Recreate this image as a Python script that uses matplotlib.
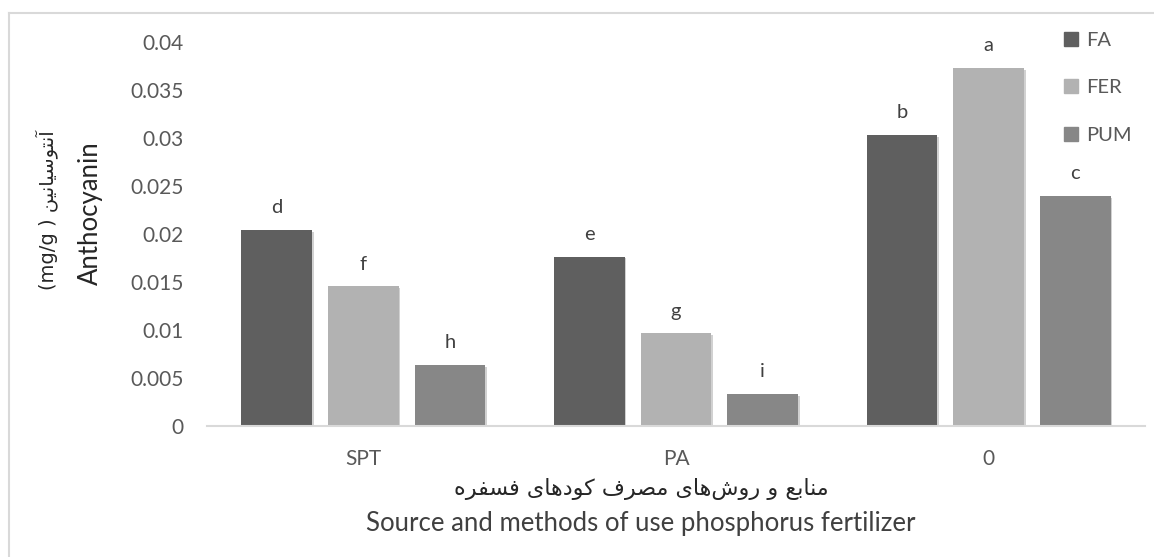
import matplotlib
matplotlib.use("Agg")
import matplotlib.pyplot as plt
import matplotlib.patheffects as pe
from matplotlib.lines import Line2D
import numpy as np

# ---- data ----
categories = ["SPT", "PA", "0"]
series_names = ["FA", "FER", "PUM"]
fa_values = [0.0204, 0.0176, 0.0303]
fer_values = [0.0145, 0.0096, 0.0373]
pum_values = [0.0063, 0.0033, 0.0239]
fa_letters = ["d", "e", "b"]
fer_letters = ["f", "g", "a"]
pum_letters = ["h", "i", "c"]
y_ticks = [0, 0.005, 0.01, 0.015, 0.02, 0.025, 0.03, 0.035, 0.04]
y_tick_labels = ["0", "0.005", "0.01", "0.015", "0.02", "0.025", "0.03", "0.035", "0.04"]

ylabel_fa = "آنتوسیانین"
ylabel_unit = "(mg/g ) "
ylabel_en = "Anthocyanin"
xlabel_fa = "منابع و روش\u200cهای مصرف کودهای فسفره"
xlabel_en = "Source and methods of use phosphorus fertilizer"

# ---- minimal Arabic-script shaping (presentation forms, visual order) ----
AR = {
    '\u0627': ('\uFE8D', '\uFE8E', None, None),
    '\u0622': ('\uFE81', '\uFE82', None, None),
    '\u0628': ('\uFE8F', '\uFE90', '\uFE91', '\uFE92'),
    '\u062A': ('\uFE95', '\uFE96', '\uFE97', '\uFE98'),
    '\u062F': ('\uFEA9', '\uFEAA', None, None),
    '\u0631': ('\uFEAD', '\uFEAE', None, None),
    '\u0633': ('\uFEB1', '\uFEB2', '\uFEB3', '\uFEB4'),
    '\u0634': ('\uFEB5', '\uFEB6', '\uFEB7', '\uFEB8'),
    '\u0635': ('\uFEB9', '\uFEBA', '\uFEBB', '\uFEBC'),
    '\u0639': ('\uFEC9', '\uFECA', '\uFECB', '\uFECC'),
    '\u0641': ('\uFED1', '\uFED2', '\uFED3', '\uFED4'),
    '\u06A9': ('\uFED9', '\uFEDA', '\uFEDB', '\uFEDC'),
    '\u0645': ('\uFEE1', '\uFEE2', '\uFEE3', '\uFEE4'),
    '\u0646': ('\uFEE5', '\uFEE6', '\uFEE7', '\uFEE8'),
    '\u0647': ('\uFEE9', '\uFEEA', '\uFEEB', '\uFEEC'),
    '\u0648': ('\uFEED', '\uFEEE', None, None),
    '\u06CC': ('\uFEEF', '\uFEF0', '\uFEF3', '\uFEF4'),
}


def shape_rtl(s):
    out = []
    for i, c in enumerate(s):
        if c not in AR:
            if c != '\u200c':
                out.append(c)
            continue
        iso, fin, ini, med = AR[c]
        p = s[i - 1] if i > 0 else ''
        n = s[i + 1] if i + 1 < len(s) else ''
        jp = p in AR and AR[p][2] is not None
        jn = ini is not None and n in AR
        if jp and jn:
            g = med
        elif jp:
            g = fin
        elif jn:
            g = ini
        else:
            g = iso
        out.append(g)
    return ''.join(reversed(out))


# ---- style ----
W, H = 1154, 557
FONT = ['Lato', 'DejaVu Sans']
plt.rcParams['font.family'] = FONT
colors = ["#5f5f5f", "#b2b2b2", "#878787"]
tick_color = "#595959"
title_color = "#404040"

fig = plt.figure(figsize=(W / 100, H / 100), dpi=100)
ax = fig.add_axes([207 / W, 1 - 425.5 / H, (1145 - 207) / W, (425.5 - 42) / H])

x = np.arange(len(categories))
step = 0.277
width = 0.226
all_vals = [fa_values, fer_values, pum_values]
all_letters = [fa_letters, fer_letters, pum_letters]
shadow = [pe.SimplePatchShadow(offset=(1.2, -1.2), shadow_rgbFace="#000000", alpha=0.18), pe.Normal()]
for k, (vals, lets, name) in enumerate(zip(all_vals, all_letters, series_names)):
    pos = x + (k - 1) * step
    bars = ax.bar(pos, vals, width=width, color=colors[k], label=name, zorder=3)
    for b in bars:
        b.set_path_effects(shadow)
    for xi, v, t in zip(pos, vals, lets):
        ax.annotate(t, (xi, v), xytext=(0, 10), textcoords="offset points",
                    ha="center", va="bottom", fontsize=14.5, color=title_color)

ax.set_xlim(-0.5, 2.5)
ax.set_ylim(0, 0.04)
ax.set_yticks(y_ticks)
ax.set_yticklabels(y_tick_labels)
ax.set_xticks(x)
ax.set_xticklabels(categories)
ax.tick_params(axis='both', length=0, labelsize=15, colors=tick_color)
ax.tick_params(axis='y', pad=17)
ax.tick_params(axis='x', pad=17)
for s in ["top", "right", "left"]:
    ax.spines[s].set_visible(False)
ax.spines["bottom"].set_color("#d9d9d9")
ax.spines["bottom"].set_linewidth(1.5)
ax.spines["bottom"].set_zorder(4)

# legend
handles = [Line2D([0], [0], marker='s', linestyle='none', markersize=9.5,
                  markerfacecolor=c, markeredgecolor=c) for c in colors]
leg = fig.legend(handles, series_names, loc="upper left",
                 bbox_to_anchor=(1053 / W, 1 - 22 / H), frameon=False,
                 fontsize=14.5, labelspacing=1.5, handlelength=0.8,
                 handletextpad=0.35, borderpad=0)
for t in leg.get_texts():
    t.set_color(tick_color)

# axis titles
fig.text(47 / W, 1 - 210 / H, ylabel_unit + shape_rtl(ylabel_fa), rotation=90,
         ha="center", va="center", fontsize=14, color="#262626",
         family=['DejaVu Sans'])
fig.text(90 / W, 1 - 213 / H, ylabel_en, rotation=90, ha="center", va="center",
         fontsize=18.5, color="#262626")
fig.text(641 / W, 1 - 489 / H, shape_rtl(xlabel_fa), ha="center", va="center",
         fontsize=16, color="#262626", family=['DejaVu Sans'])
fig.text(641 / W, 1 - 523 / H, xlabel_en, ha="center", va="center",
         fontsize=18.5, color=title_color)

# outer chart border (top and left visible)
fig.add_artist(Line2D([9 / W, 1], [1 - 13 / H, 1 - 13 / H], color="#d9d9d9", lw=1.5,
                      transform=fig.transFigure))
fig.add_artist(Line2D([9 / W, 9 / W], [0, 1 - 13 / H], color="#d9d9d9", lw=1.5,
                      transform=fig.transFigure))

fig.savefig("out.png", dpi=100, facecolor="white")
